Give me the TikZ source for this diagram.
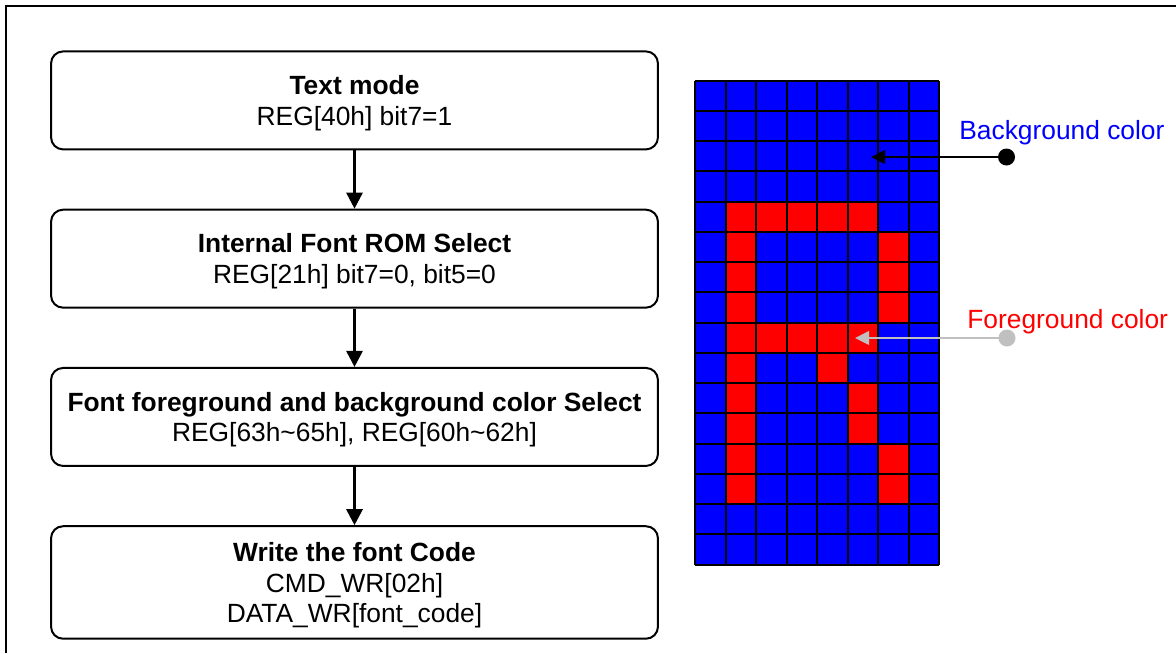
\documentclass[tikz,border=0pt]{standalone}
\usepackage{xcolor}
\usepackage{fontspec}
\setmainfont{Liberation Sans}
\usepackage{tikz}
\usetikzlibrary{positioning, arrows.meta}
\definecolor{pixblue}{RGB}{0,0,255}
\definecolor{pixred}{RGB}{255,0,0}
\definecolor{pointgray}{RGB}{192,192,192}
\newlength{\Gap}
\setlength\Gap{1.166cm}

\begin{document}
\begin{tikzpicture}[
    x = 0.02cm, y = -0.02cm, align = center,
    font = \fontsize{15}{17.5}\selectfont,
    stepbox/.style = {
      rectangle, draw, rounded corners = 0.24cm, line width = 0.04cm,
      inner sep = 0pt, minimum width = 12.14cm, minimum height = 1.96cm
    },
    flow/.style = {
      arrows = {-Triangle[length = 0.32cm, width = 0.32cm]}, line width = 0.055cm
    },
    pointer/.style = {
      arrows = {-Triangle[length = 0.28cm, width = 0.27cm]}, line width = 0.05cm
    },
    dot/.style = {
      circle, draw = none, inner sep = 0pt, minimum size = 0.34cm
    },
    cellline/.style = {
      line width = 0.04cm
    },
    colorlabel/.style = {
      anchor = base west, inner sep = 0pt
    },
    ]

    \useasboundingbox (0,0) rectangle (1176,653);

    % frame
    \draw  [line width = 0.04cm]  (6,653) -- (6,6) -- (1176,6);

    % draw flow steps
    \node  [stepbox]  (textmode)  at  (354.5,100.4)  {\textbf{Text mode}\\\smash{REG[40h] bit7=1}};
    \node  [stepbox]  (romsel)  [below = \Gap of textmode]  {\textbf{Internal Font ROM Select}\\\smash{REG[21h] bit7=0, bit5=0}};
    \node  [stepbox]  (colsel)  [below = \Gap of romsel]  {\textbf{Font foreground and background color Select}\\\smash{REG[63h\textasciitilde65h], REG[60h\textasciitilde62h]}};
    \node  [stepbox, minimum height = 2.25cm]  (writecode)  [below = \Gap of colsel]  {\textbf{Write the font Code}\\CMD\_WR[02h]\\\smash{DATA\_WR[font\_code]}};

    % draw flow paths
    \draw  [flow]  (textmode)  --  (romsel);
    \draw  [flow]  (romsel)  --  (colsel);
    \draw  [flow]  (colsel)  --  (writecode);

    % draw font cells
    \fill  [pixblue]  (695.3,80.7)  rectangle  (939.3,564.7);
    \foreach \r/\c in {4/1, 4/2, 4/3, 4/4, 4/5, 5/1, 5/6, 6/1, 6/6, 7/1, 7/6,
                       8/1, 8/2, 8/3, 8/4, 8/5, 9/1, 9/4, 10/1, 10/5, 11/1, 11/5,
                       12/1, 12/6, 13/1, 13/6}
    \fill  [pixred]  ({695.3+\c*30.5},{80.7+\r*30.25})  rectangle  ++(30.5,30.25);

    \foreach \c in {0, ..., 8}
    \draw  [cellline]  ({695.3+\c*30.5},80.7)  --  ({695.3+\c*30.5},564.7);

    \foreach \r in {0, ..., 16}
    \draw  [cellline]  (695.3,{80.7+\r*30.25})  --  (939.3,{80.7+\r*30.25});

    % draw color pointers
    \node  [dot, fill = black]  (bgdot)  at  (1006.5,157)  {};
    \coordinate  (bgtip)  at  (871,157);
    \node  [dot, fill = pointgray]  (fgdot)  at  (1007,338)  {};
    \coordinate  (fgtip)  at  (855,338);

    \draw  [pointer, black]  (bgdot.center)  --  (bgtip);
    \draw  [pointer, pointgray]  (fgdot.center)  --  (fgtip);

    \node  [colorlabel, text = pixblue]  (bglabel)  at  (959,139)  {Background color};
    \node  [colorlabel, text = pixred]  (fglabel)  at  (967,328)  {Foreground color};
\end{tikzpicture}
\end{document}
